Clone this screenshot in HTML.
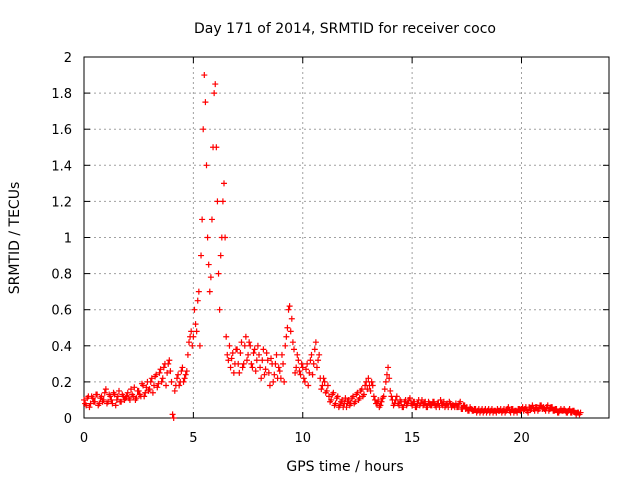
<!DOCTYPE html>
<html><head><meta charset="utf-8"><style>
body{margin:0;background:#fff;}
svg{display:block;font-family:"DejaVu Sans","Liberation Sans",sans-serif;}
</style></head><body>
<svg id="chart" width="640" height="480" viewBox="0 0 640 480">
<rect width="640" height="480" fill="#fff"/>
<text x="345" y="33" text-anchor="middle" font-size="14">Day 171 of 2014, SRMTID for receiver coco</text>
<g id="grid"></g>
<g id="axes"></g>
<g id="points"></g>
<text x="345" y="471" text-anchor="middle" font-size="14">GPS time / hours</text>
<text transform="translate(19,238) rotate(-90)" text-anchor="middle" font-size="14">SRMTID / TECUs</text>
</svg>
<script>
const xTicks=[0,5,10,15,20];
const yTicks=[0,0.2,0.4,0.6,0.8,1,1.2,1.4,1.6,1.8,2];
const yTickLabels=["0","0.2","0.4","0.6","0.8","1","1.2","1.4","1.6","1.8","2"];
const tStart=0, tStep=0.1;
const values=[
0.10,0.07,0.12,0.08,0.11,0.09,0.13,0.08,0.12,0.10,
0.16,0.09,0.12,0.08,0.13,0.10,0.15,0.09,0.12,0.11,
0.14,0.10,0.13,0.17,0.11,0.15,0.12,0.18,0.14,0.20,
0.16,0.22,0.18,0.24,0.19,0.27,0.22,0.30,0.25,0.32,
0.20,0.00,0.18,0.24,0.20,0.28,0.22,0.26,0.42,0.48,
0.45,0.52,0.65,0.40,1.10,1.90,1.40,0.85,0.78,1.50,
1.85,1.20,0.60,1.00,1.30,0.45,0.32,0.28,0.36,0.30,
0.38,0.25,0.42,0.30,0.45,0.35,0.40,0.28,0.38,0.32,
0.35,0.22,0.38,0.27,0.32,0.18,0.30,0.24,0.35,0.28,
0.22,0.30,0.40,0.50,0.62,0.55,0.38,0.28,0.32,0.24,
0.28,0.20,0.30,0.25,0.35,0.30,0.42,0.32,0.22,0.18,
0.20,0.15,0.12,0.10,0.14,0.08,0.12,0.07,0.10,0.08,
0.06,0.10,0.08,0.12,0.09,0.14,0.11,0.16,0.13,0.20,
0.22,0.15,0.18,0.10,0.08,0.06,0.09,0.12,0.20,0.28,
0.15,0.10,0.08,0.12,0.07,0.09,0.06,0.10,0.08,0.11,
0.07,0.09,0.06,0.10,0.08,0.07,0.09,0.06,0.08,0.07,
0.09,0.06,0.08,0.10,0.07,0.06,0.08,0.09,0.06,0.07,
0.08,0.06,0.09,0.05,0.07,0.06,0.04,0.05,0.04,0.05,
0.04,0.03,0.05,0.04,0.03,0.05,0.04,0.03,0.04,0.05,
0.04,0.03,0.05,0.04,0.06,0.03,0.05,0.04,0.03,0.05,
0.05,0.04,0.06,0.03,0.05,0.07,0.04,0.06,0.05,0.07,
0.06,0.04,0.07,0.05,0.06,0.04,0.05,0.03,0.05,0.04,
0.04,0.03,0.05,0.03,0.04,0.02,0.03,0.03];
const tStart2=0.05;
const values2=[
0.08,0.11,0.06,0.12,0.09,0.13,0.07,0.11,0.09,0.14,
0.08,0.13,0.10,0.14,0.07,0.12,0.09,0.13,0.10,0.12,
0.11,0.16,0.12,0.10,0.15,0.13,0.19,0.12,0.17,0.15,
0.20,0.14,0.23,0.17,0.25,0.20,0.28,0.18,0.30,0.26,
0.02,0.15,0.22,0.18,0.26,0.20,0.24,0.35,0.45,0.40,
0.60,0.48,0.70,0.90,1.60,1.75,1.00,0.70,1.10,1.80,
1.50,0.80,0.90,1.20,1.00,0.35,0.40,0.33,0.25,0.38,
0.30,0.36,0.28,0.40,0.32,0.42,0.30,0.36,0.26,0.40,
0.28,0.32,0.24,0.36,0.25,0.33,0.20,0.30,0.22,0.26,
0.35,0.20,0.45,0.60,0.48,0.42,0.25,0.35,0.26,0.30,
0.22,0.27,0.18,0.32,0.24,0.38,0.28,0.35,0.16,0.22,
0.14,0.18,0.09,0.13,0.07,0.11,0.06,0.09,0.06,0.11,
0.09,0.07,0.11,0.08,0.13,0.10,0.15,0.12,0.18,0.16,
0.18,0.20,0.12,0.08,0.10,0.07,0.11,0.16,0.24,0.22,
0.12,0.07,0.10,0.08,0.10,0.06,0.09,0.07,0.10,0.08,
0.09,0.06,0.08,0.07,0.10,0.08,0.06,0.09,0.07,0.09,
0.07,0.08,0.06,0.08,0.09,0.07,0.06,0.08,0.07,0.06,
0.06,0.08,0.05,0.07,0.05,0.04,0.06,0.04,0.05,0.03,
0.05,0.04,0.03,0.05,0.04,0.03,0.05,0.04,0.03,0.04,
0.05,0.04,0.03,0.05,0.04,0.05,0.03,0.04,0.05,0.04,
0.06,0.05,0.04,0.06,0.05,0.05,0.06,0.04,0.07,0.05,
0.05,0.06,0.04,0.06,0.04,0.05,0.03,0.04,0.04,0.05,
0.03,0.04,0.03,0.04,0.03,0.03,0.02];
const L=84,R=609,T=57,B=418,XMAX=24,YMAX=2;
const sx=v=>L+(v/XMAX)*(R-L);
const sy=v=>B-(v/YMAX)*(B-T);
const NS="http://www.w3.org/2000/svg";
function mk(tag,attrs,parent){const e=document.createElementNS(NS,tag);for(const k in attrs)e.setAttribute(k,attrs[k]);parent.appendChild(e);return e;}
const grid=document.getElementById('grid'),axes=document.getElementById('axes'),pts=document.getElementById('points');
xTicks.forEach(t=>{
  const x=sx(t);
  if(t>0){const g=mk('line',{x1:x,x2:x,y1:T,y2:B,stroke:'#a0a0a0','stroke-dasharray':'2,3','stroke-width':1},grid);
  
  }
  mk('line',{x1:x,x2:x,y1:B,y2:B-6,stroke:'#000'},axes);
  mk('line',{x1:x,x2:x,y1:T,y2:T+6,stroke:'#000'},axes);
  const lb=mk('text',{x:x,y:B+24,'text-anchor':'middle','font-size':13},axes);
  lb.textContent=String(t);
  
  
});
yTicks.forEach((t,i)=>{
  const y=sy(t);
  if(t>0&&t<YMAX){const g=mk('line',{x1:L,x2:R,y1:y,y2:y,stroke:'#a0a0a0','stroke-dasharray':'2,3','stroke-width':1},grid);
  
  }
  mk('line',{x1:L,x2:L+6,y1:y,y2:y,stroke:'#000'},axes);
  mk('line',{x1:R,x2:R-6,y1:y,y2:y,stroke:'#000'},axes);
  const lb=mk('text',{x:L-12,y:y+5,'text-anchor':'end','font-size':13},axes);
  lb.textContent=yTickLabels[i];
  
  
});
mk('rect',{x:L,y:T,width:R-L,height:B-T,fill:'none',stroke:'#000'},axes);
let d='';
values.forEach((v,i)=>{
  const x=sx(tStart+i*tStep),y=sy(v);
  d+=`M${x-3},${y}h6M${x},${y-3}v6`;
});
values2.forEach((v,i)=>{
  const x=sx(tStart2+i*tStep),y=sy(v);
  d+=`M${x-3},${y}h6M${x},${y-3}v6`;
});
const p=mk('path',{d:d,stroke:'#ff0000','stroke-width':1.2,fill:'none'},pts);


</script>
</body></html>
